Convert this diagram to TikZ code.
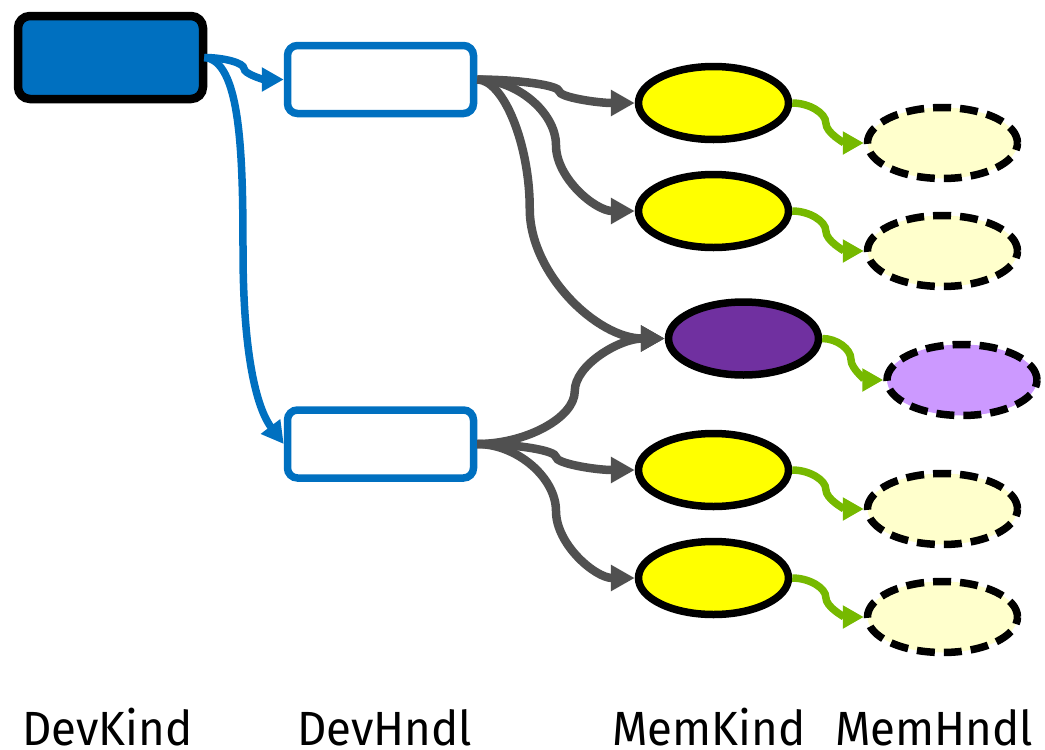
\documentclass[tikz,border=0pt]{standalone}
\usepackage{fontspec}
\newfontfamily\lblfont{Fira Sans}[FakeStretch=0.95]
\usetikzlibrary{arrows.meta,shapes.geometric,calc}
\definecolor{dkblue}{HTML}{0070C0}
\definecolor{mkyellow}{HTML}{FFFF00}
\definecolor{mhyellow}{HTML}{FFFFCC}
\definecolor{mkpurple}{HTML}{7030A0}
\definecolor{mhpurple}{HTML}{CC99FF}
\definecolor{cgray}{HTML}{505050}
\definecolor{cgreen}{HTML}{76B900}
\tikzset{
  devkind/.style={draw=black, line width=8.5pt, fill=dkblue, rounded corners=12pt, minimum width=185pt, minimum height=83pt, inner sep=0pt},
  devhndl/.style={draw=dkblue, line width=7.5pt, fill=white, rounded corners=10pt, minimum width=186pt, minimum height=68pt, inner sep=0pt},
  memkind/.style={ellipse, draw=black, line width=7.5pt, fill=mkyellow, minimum width=150pt, minimum height=73pt, inner sep=0pt},
  memhndl/.style={ellipse, draw=black, line width=7.5pt, dash pattern=on 18pt off 9pt, fill=mhyellow, minimum width=150pt, minimum height=71pt, inner sep=0pt},
  pcurve/.style={to path={let \p1=(\tikztostart), \p2=(\tikztotarget), \n1={\x1+#1*(\x2-\x1)} in
    .. controls ({(\x1+\n1)/2}, \y1) and ({\n1*1pt}, {\y1+(\y2-\y1)/4}) .. ({\n1*1pt}, {(\y1+\y2)/2})
    .. controls ({\n1*1pt}, {\y1+3*(\y2-\y1)/4}) and ({(\n1+\x2)/2}, \y2) .. (\tikztotarget)}},
  bluecon/.style={draw=dkblue, line width=7.5pt, -{Triangle[length=22pt,width=23pt]}},
  graycon/.style={draw=cgray, line width=8.5pt, -{Triangle[length=24pt,width=25pt]}},
  greencon/.style={draw=cgreen, line width=7.5pt, -{Triangle[length=21pt,width=22pt]}},
  lbl/.style={anchor=base west, inner sep=0pt, font=\lblfont\fontsize{48}{50}\selectfont}
}
\begin{document}
\begin{tikzpicture}[x=1pt,y=-1pt]
\useasboundingbox (0,0) rectangle (1045,750);
% nodes
\node[devkind] (dk) at (110.5,57.5) {};
\node[devhndl] (dh1) at (380.5,79.5) {};
\node[devhndl] (dh2) at (380.5,444) {};
\node[memkind] (mk1) at (713.5,103) {};
\node[memkind] (mk2) at (713.5,211) {};
\node[memkind, fill=mkpurple] (mk3) at (743.5,338.5) {};
\node[memkind] (mk4) at (713.5,470) {};
\node[memkind] (mk5) at (713.5,578) {};
\node[memhndl] (mh1) at (942.5,143) {};
\node[memhndl] (mh2) at (942.5,251) {};
\node[memhndl, fill=mhpurple] (mh3) at (962,380) {};
\node[memhndl] (mh4) at (942.5,509) {};
\node[memhndl] (mh5) at (942.5,617) {};
% labels
\node[lbl] (l1) at (22,745) {DevKind};
\node[lbl] (l2) at (297,745) {DevHndl};
\node[lbl] (l3) at (612,745) {MemKind};
\node[lbl] (l4) at (835,745) {MemHndl};
% connectors
\coordinate (dkout) at ($(dk.east)+(-3,0)$);
\draw[bluecon] (dkout) to[pcurve=0.5] (dh1.west);
\draw[bluecon] (dkout) .. controls (240,60) and (243,150) .. (243,250) .. controls (243,360) and (258,410) .. (dh2.west);
\draw[graycon] (dh1.east) to[pcurve=0.52] (mk1.west);
\draw[graycon] (dh1.east) to[pcurve=0.5] (mk2.west);
\draw[graycon] (dh1.east) to[pcurve=0.28] (mk3.west);
\draw[graycon] (dh2.east) to[pcurve=0.52] (mk3.west);
\draw[graycon] (dh2.east) to[pcurve=0.5] (mk4.west);
\draw[graycon] (dh2.east) to[pcurve=0.5] (mk5.west);
\draw[greencon] (mk1.east) to[pcurve=0.47] (mh1.west);
\draw[greencon] (mk2.east) to[pcurve=0.47] (mh2.west);
\draw[greencon] (mk3.east) to[pcurve=0.47] (mh3.west);
\draw[greencon] (mk4.east) to[pcurve=0.47] (mh4.west);
\draw[greencon] (mk5.east) to[pcurve=0.47] (mh5.west);
\end{tikzpicture}
\end{document}
